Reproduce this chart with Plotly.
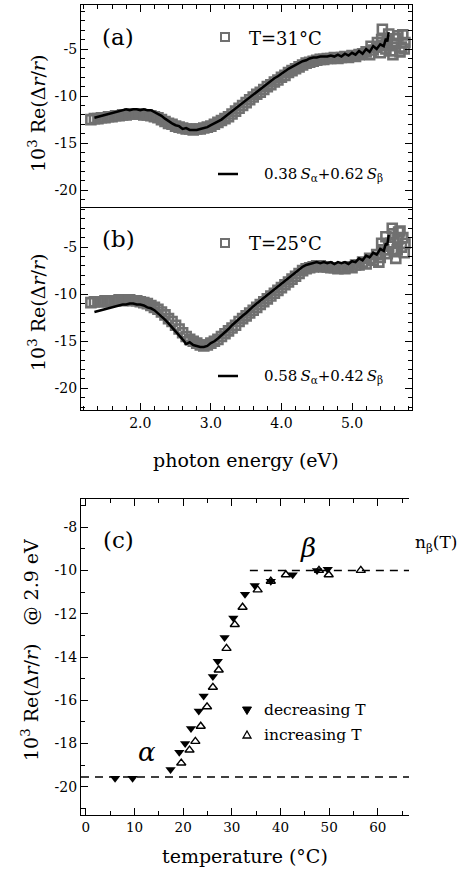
import plotly.graph_objects as go

# ---------------- data: panel (a), T = 31 C ----------------
sq_a_E = [1.30, 1.35, 1.40, 1.45, 1.50, 1.55, 1.60, 1.65, 1.70, 1.75,
          1.80, 1.85, 1.90, 1.95, 2.00, 2.05, 2.10, 2.15, 2.20, 2.25,
          2.30, 2.35, 2.40, 2.45, 2.50, 2.55, 2.60, 2.65, 2.70, 2.75,
          2.80, 2.85, 2.90, 2.95, 3.00, 3.05, 3.10, 3.15, 3.20, 3.25,
          3.30, 3.35, 3.40, 3.45, 3.50, 3.55, 3.60, 3.65, 3.70, 3.75,
          3.80, 3.85, 3.90, 3.95, 4.00, 4.05, 4.10, 4.15, 4.20, 4.25,
          4.30, 4.35, 4.40, 4.45, 4.50, 4.55, 4.60, 4.65, 4.70, 4.75,
          4.80, 4.85, 4.90, 4.95, 5.00, 5.05, 5.10, 5.15, 5.20, 5.25,
          5.30, 5.35, 5.40, 5.45, 5.50, 5.55, 5.60, 5.65, 5.70, 5.75,
          5.27, 5.36, 5.42, 5.43, 5.48, 5.52, 5.58, 5.62, 5.68, 5.72, 5.74]
sq_a_R = [-12.5, -12.4, -12.4, -12.3, -12.3, -12.2, -12.2, -12.1, -12.1, -12.0,
          -12.0, -11.9, -11.9, -11.9, -11.9, -12.0, -12.0, -12.1, -12.2, -12.3,
          -12.5, -12.7, -12.9, -13.0, -13.2, -13.3, -13.4, -13.5, -13.5, -13.6,
          -13.5, -13.5, -13.4, -13.3, -13.2, -13.0, -12.8, -12.6, -12.4, -12.2,
          -11.9, -11.6, -11.3, -11.0, -10.7, -10.4, -10.1, -9.8, -9.6, -9.3,
          -9.0, -8.8, -8.5, -8.3, -8.0, -7.8, -7.5, -7.3, -7.1, -6.9,
          -6.7, -6.5, -6.4, -6.3, -6.2, -6.1, -6.1, -6.0, -6.0, -5.9,
          -6.0, -5.9, -5.8, -5.9, -5.7, -5.8, -5.6, -5.5, -5.3, -5.6,
          -5.1, -4.8, -5.4, -4.6, -4.1, -5.2, -4.4, -3.6, -4.8, -4.3,
          -4.7, -4.3, -4.0, -2.9, -5.0, -3.4, -5.6, -3.9, -5.3, -3.5, -5.0]

fit_E = [1.35, 1.40, 1.45, 1.50, 1.55, 1.60, 1.65, 1.70, 1.75, 1.80,
         1.85, 1.90, 1.95, 2.00, 2.05, 2.10, 2.15, 2.20, 2.25, 2.30,
         2.35, 2.40, 2.45, 2.50, 2.55, 2.60, 2.65, 2.70, 2.75, 2.80,
         2.85, 2.90, 2.95, 3.00, 3.05, 3.10, 3.15, 3.20, 3.25, 3.30,
         3.35, 3.40, 3.45, 3.50, 3.55, 3.60, 3.65, 3.70, 3.75, 3.80,
         3.85, 3.90, 3.95, 4.00, 4.05, 4.10, 4.15, 4.20, 4.25, 4.30,
         4.35, 4.40, 4.45, 4.50, 4.55, 4.60, 4.65, 4.70, 4.75, 4.80,
         4.85, 4.90, 4.95, 5.00, 5.05, 5.10, 5.15, 5.20, 5.25, 5.30,
         5.35, 5.40, 5.45, 5.48, 5.50, 5.52]
fit_a_R = [-12.3, -12.2, -12.1, -12.0, -11.9, -11.8, -11.7, -11.6, -11.5, -11.4,
           -11.5, -11.4, -11.4, -11.5, -11.4, -11.5, -11.5, -11.7, -11.9, -12.1,
           -12.4, -12.7, -12.9, -13.1, -13.2, -13.5, -13.4, -13.6, -13.6, -13.6,
           -13.5, -13.4, -13.3, -13.1, -12.9, -12.7, -12.5, -12.2, -11.9, -11.6,
           -11.3, -11.0, -10.7, -10.4, -10.1, -9.8, -9.5, -9.2, -8.9, -8.7,
           -8.4, -8.1, -7.9, -7.6, -7.4, -7.1, -6.9, -6.7, -6.5, -6.3,
           -6.2, -6.0, -5.9, -5.9, -5.8, -5.8, -5.8, -5.7, -5.8, -5.6,
           -5.8, -5.5, -5.7, -5.4, -5.6, -5.2, -5.5, -5.0, -5.3, -4.7,
           -5.0, -4.5, -4.7, -3.9, -4.2, -3.2]

# ---------------- data: panel (b), T = 25 C ----------------
sq_b_E = [1.30, 1.35, 1.40, 1.45, 1.50, 1.55, 1.60, 1.65, 1.70, 1.75,
          1.80, 1.85, 1.90, 1.95, 2.00, 2.05, 2.10, 2.15, 2.20, 2.25,
          2.30, 2.35, 2.40, 2.45, 2.50, 2.55, 2.60, 2.65, 2.70, 2.75,
          2.80, 2.85, 2.90, 2.95, 3.00, 3.05, 3.10, 3.15, 3.20, 3.25,
          3.30, 3.35, 3.40, 3.45, 3.50, 3.55, 3.60, 3.65, 3.70, 3.75,
          3.80, 3.85, 3.90, 3.95, 4.00, 4.05, 4.10, 4.15, 4.20, 4.25,
          4.30, 4.35, 4.40, 4.45, 4.50, 4.55, 4.60, 4.65, 4.70, 4.75,
          4.80, 4.85, 4.90, 4.95, 5.00, 5.05, 5.10, 5.15, 5.20, 5.25,
          5.30, 5.35, 5.40, 5.45, 5.50, 5.55, 5.60, 5.65, 5.70, 5.75,
          5.38, 5.42, 5.48, 5.52, 5.57, 5.58, 5.62, 5.64, 5.66, 5.68, 5.72, 5.74]
sq_b_R = [-10.9, -10.8, -10.8, -10.8, -10.7, -10.8, -10.7, -10.7, -10.6, -10.7,
          -10.6, -10.6, -10.7, -10.7, -10.8, -10.9, -11.0, -11.2, -11.4, -11.6,
          -11.9, -12.2, -12.6, -12.9, -13.3, -13.7, -14.1, -14.5, -14.8, -15.0,
          -15.2, -15.4, -15.5, -15.4, -15.2, -15.0, -14.8, -14.5, -14.2, -13.9,
          -13.6, -13.3, -12.9, -12.6, -12.3, -12.0, -11.7, -11.4, -11.1, -10.8,
          -10.5, -10.2, -9.9, -9.6, -9.3, -9.0, -8.7, -8.4, -8.1, -7.8,
          -7.5, -7.3, -7.2, -7.1, -7.0, -7.0, -7.1, -7.1, -7.2, -7.2,
          -7.3, -7.2, -7.3, -7.1, -7.2, -6.9, -6.9, -6.6, -6.8, -6.2,
          -6.4, -5.8, -6.1, -5.3, -5.7, -4.6, -5.5, -4.2, -5.0, -4.6,
          -6.6, -4.6, -3.9, -4.9, -3.0, -3.6, -6.2, -5.3, -3.4, -3.3, -4.0, -5.6]

fit_b_R = [-11.9, -11.8, -11.7, -11.6, -11.5, -11.4, -11.3, -11.2, -11.1, -11.1,
           -11.0, -11.0, -11.1, -11.1, -11.2, -11.4, -11.5, -11.7, -12.0, -12.3,
           -12.7, -13.1, -13.5, -14.0, -14.4, -14.8, -15.3, -15.1, -15.4, -15.5,
           -15.6, -15.6, -15.5, -15.2, -15.0, -14.7, -14.4, -14.0, -13.7, -13.3,
           -13.0, -12.6, -12.3, -12.0, -11.6, -11.3, -11.0, -10.7, -10.4, -10.1,
           -9.8, -9.5, -9.2, -8.9, -8.6, -8.3, -8.0, -7.7, -7.4, -7.1,
           -6.9, -6.8, -6.7, -6.6, -6.7, -6.6, -6.7, -6.6, -6.8, -6.6,
           -6.7, -6.6, -6.8, -6.5, -6.6, -6.2, -6.4, -5.9, -6.1, -5.6,
           -5.8, -5.2, -5.4, -4.6, -4.8, -3.7]

# ---------------- data: panel (c) ----------------
dec_T = [6.0, 9.6, 17.4, 19.2, 20.4, 21.6, 23.2, 24.2, 26.1, 27.1, 28.5,
         30.3, 32.7, 34.7, 38.0, 42.5, 47.5, 49.7]
dec_R = [-19.6, -19.6, -19.2, -18.4, -18.0, -17.3, -16.5, -15.8, -14.9, -14.2, -13.1,
         -12.2, -11.1, -10.7, -10.5, -10.2, -10.0, -9.95]
inc_T = [19.6, 21.3, 22.5, 23.6, 24.9, 26.1, 27.3, 28.9, 30.6, 32.2, 35.3,
         38.0, 41.1, 47.9, 49.9, 56.5]
inc_R = [-18.9, -18.3, -17.9, -17.2, -16.3, -15.4, -14.6, -13.6, -12.5, -11.7, -10.9,
         -10.5, -10.2, -10.0, -10.2, -10.0]
alpha_level = -19.55
beta_level = -10.0
alpha_T = [-1.0, 66.4]
beta_T = [33.7, 66.4]

# tick labels
ab_xticks = [2.0, 3.0, 4.0, 5.0]
ab_xlabels = ["2.0", "3.0", "4.0", "5.0"]
ab_yticks = [-5, -10, -15, -20]
ab_ylabels = ["-5", "-10", "-15", "-20"]
c_xticks = [0, 10, 20, 30, 40, 50, 60]
c_xlabels = ["0", "10", "20", "30", "40", "50", "60"]
c_yticks = [-8, -10, -12, -14, -16, -18, -20]
c_ylabels = ["-8", "-10", "-12", "-14", "-16", "-18", "-20"]
n_ticks = [0, 0.25, 0.5, 0.75, 1.0]
n_labels = ["0", "", "0.5", "", "1.0"]

# ---------------- layout helpers ----------------
W, H = 471, 871
SERIF = "DejaVu Serif, Liberation Serif, serif"


def px(x):
    return x / W


def py(y):
    return 1 - y / H


fig = go.Figure()

GRAY = "#707070"
SQ = dict(symbol="square-open", size=9, color=GRAY, line=dict(width=2.6, color=GRAY))
fig.add_trace(go.Scatter(x=sq_a_E, y=sq_a_R, mode="markers", marker=SQ, xaxis="x", yaxis="y"))
fig.add_trace(go.Scatter(x=fit_E, y=fit_a_R, mode="lines", line=dict(color="black", width=2.5),
                         xaxis="x", yaxis="y"))
fig.add_trace(go.Scatter(x=sq_b_E, y=sq_b_R, mode="markers", marker=SQ, xaxis="x2", yaxis="y2"))
fig.add_trace(go.Scatter(x=fit_E, y=fit_b_R, mode="lines", line=dict(color="black", width=2.5),
                         xaxis="x2", yaxis="y2"))

DASH = dict(color="black", width=1.5, dash="8px,6px")
fig.add_trace(go.Scatter(x=alpha_T, y=[alpha_level] * len(alpha_T), mode="lines", line=DASH,
                         xaxis="x3", yaxis="y3"))
fig.add_trace(go.Scatter(x=beta_T, y=[beta_level] * len(beta_T), mode="lines", line=DASH,
                         xaxis="x3", yaxis="y3"))
fig.add_trace(go.Scatter(x=dec_T, y=dec_R, mode="markers",
                         marker=dict(symbol="triangle-down", size=9, color="black"),
                         xaxis="x3", yaxis="y3"))
fig.add_trace(go.Scatter(x=inc_T, y=inc_R, mode="markers",
                         marker=dict(symbol="triangle-up-open", size=8, color="black",
                                     line=dict(width=1.4, color="black")),
                         xaxis="x3", yaxis="y3"))

TF = dict(family=SERIF, size=14, color="black")
base = dict(showline=True, linecolor="black", linewidth=1.2, ticks="inside", tickcolor="black",
            tickwidth=1.2, showgrid=False, zeroline=False, tickfont=TF, automargin=False)

xa_dom = [px(81), px(412)]
xc_dom = [px(81), px(409)]

fig.update_layout(
    width=W, height=H, margin=dict(l=0, r=0, t=0, b=0),
    paper_bgcolor="white", plot_bgcolor="white", showlegend=False,
    font=dict(family=SERIF, color="black"),
    xaxis=dict(base, domain=xa_dom, range=[1.16, 5.85], anchor="y", side="top",
               tickmode="array", tickvals=ab_xticks, showticklabels=False, ticklen=7,
               minor=dict(dtick=0.2, tick0=0, ticks="inside", ticklen=4, tickcolor="black", tickwidth=1)),
    yaxis=dict(base, domain=[py(208), py(5)], range=[-21.9, -0.32], anchor="x",
               tickmode="array", tickvals=ab_yticks, ticktext=ab_ylabels, ticklen=7, mirror="ticks",
               minor=dict(dtick=1, tick0=0, ticks="inside", ticklen=4, tickcolor="black", tickwidth=1)),
    xaxis2=dict(base, domain=xa_dom, range=[1.16, 5.85], anchor="y2", mirror=True,
                tickmode="array", tickvals=ab_xticks, ticktext=ab_xlabels, ticklen=7,
                minor=dict(dtick=0.2, tick0=0, ticks="inside", ticklen=4, tickcolor="black", tickwidth=1)),
    yaxis2=dict(base, domain=[py(410), py(208)], range=[-22.3, -0.85], anchor="x2",
                tickmode="array", tickvals=ab_yticks, ticktext=ab_ylabels, ticklen=7, mirror="ticks",
                minor=dict(dtick=1, tick0=0, ticks="inside", ticklen=4, tickcolor="black", tickwidth=1)),
    xaxis3=dict(base, domain=xc_dom, range=[-1.0, 66.4], anchor="y3", mirror="ticks",
                tickmode="array", tickvals=c_xticks, ticktext=c_xlabels, ticklen=7,
                tickfont=dict(family=SERIF, size=13.5, color="black"),
                minor=dict(dtick=5, tick0=0, ticks="inside", ticklen=4, tickcolor="black", tickwidth=1)),
    yaxis3=dict(base, domain=[py(815), py(499)], range=[-21.3, -6.7], anchor="x3",
                tickmode="array", tickvals=c_yticks, ticktext=c_ylabels, ticklen=7,
                minor=dict(dtick=1, tick0=0, ticks="inside", ticklen=4, tickcolor="black", tickwidth=1)),
    yaxis4=dict(overlaying="y3", anchor="x3", side="right", showline=False, showgrid=False,
                zeroline=False, ticks="inside", ticklen=8, tickwidth=1.5, tickcolor="black",
                range=[(-21.3 - alpha_level) / (beta_level - alpha_level),
                       (-6.7 - alpha_level) / (beta_level - alpha_level)],
                tickmode="array", tickvals=n_ticks, ticktext=n_labels, tickfont=TF, automargin=False),
)

anns = []


def ann(x, y, text, size, xanchor="center", angle=0, family=SERIF):
    anns.append(dict(x=px(x), y=py(y), xref="paper", yref="paper", text=text, showarrow=False,
                     xanchor=xanchor, yanchor="middle", textangle=angle,
                     font=dict(family=family, size=size, color="black")))


ytitle = "10<sup>3</sup> Re(Δ<i>r</i>/<i>r</i>)"
ann(37, 114, ytitle, 19, angle=-90)
ann(37, 313, ytitle, 19, angle=-90)
ann(30, 650, ytitle + "   @ 2.9 eV", 19, angle=-90)
ann(246, 460, "photon energy (eV)", 19)
ann(245, 856, "temperature (°C)", 19)
ann(118, 37, "(a)", 23)
ann(118, 239, "(b)", 23)
ann(118, 540, "(c)", 23)
ann(247, 38, "T=31°C", 18, xanchor="left")
ann(247, 243, "T=25°C", 18, xanchor="left")
ann(262, 174, "0.38\u2009<i>S</i><sub>α</sub>+0.62\u2009<i>S</i><sub>β</sub>", 15, xanchor="left")
ann(262, 376, "0.58\u2009<i>S</i><sub>α</sub>+0.42\u2009<i>S</i><sub>β</sub>", 15, xanchor="left")
ann(147, 752, "<i>α</i>", 26)
ann(308, 548, "<i>β</i>", 26)
ann(413, 543, "n<sub>β</sub>(T)", 17, xanchor="left")
ann(262, 710, "decreasing T", 15.5, xanchor="left")
ann(262, 735, "increasing T", 15.5, xanchor="left")
fig.update_layout(annotations=anns)

# legend symbols
shapes = []
for yy in (37, 243):
    shapes.append(dict(type="rect", xref="paper", yref="paper", xsizemode="pixel", ysizemode="pixel",
                       xanchor=px(225), yanchor=py(yy), x0=-4, x1=4, y0=-4, y1=4,
                       line=dict(color=GRAY, width=2)))
for yy in (174, 376):
    shapes.append(dict(type="line", xref="paper", yref="paper", x0=px(218), x1=px(238),
                       y0=py(yy), y1=py(yy), line=dict(color="black", width=2.5)))
shapes.append(dict(type="path", xref="paper", yref="paper", xsizemode="pixel", ysizemode="pixel",
                   xanchor=px(247), yanchor=py(710), path="M -4.5 3 L 4.5 3 L 0 -4.5 Z",
                   fillcolor="black", line=dict(color="black", width=1)))
shapes.append(dict(type="path", xref="paper", yref="paper", xsizemode="pixel", ysizemode="pixel",
                   xanchor=px(247), yanchor=py(735), path="M -4 -3 L 4 -3 L 0 4 Z",
                   fillcolor="rgba(0,0,0,0)", line=dict(color="black", width=1.3)))
fig.update_layout(shapes=shapes)

fig.write_html("out.html", config={"displayModeBar": False},
               post_script="document.body.style.margin='0px';document.body.style.overflow='hidden';")
